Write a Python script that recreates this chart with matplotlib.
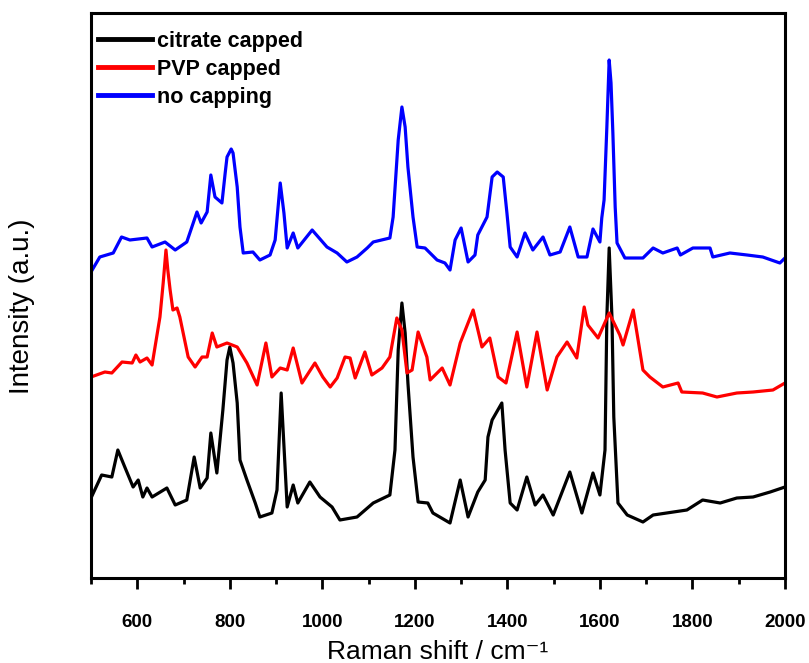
import numpy as np
import matplotlib.pyplot as plt
from matplotlib.ticker import MultipleLocator

plt.rcParams['font.family'] = ['Liberation Sans', 'DejaVu Sans']

# Raman spectra of the Ag nanoparticles, read point by point (cm-1, a.u.)
shift_citrate = [500, 523, 545, 558, 573, 591, 602, 612, 621, 632, 664, 682, 707, 723,
                 736, 751, 759, 772, 785, 794, 800, 807, 816, 822, 837, 855, 865, 891,
                 902, 911, 924, 937, 947, 973, 995, 1021, 1038, 1075, 1110, 1146,
                 1157, 1164, 1172, 1179, 1185, 1196, 1207, 1228, 1239, 1276, 1298,
                 1315, 1336, 1352, 1358, 1367, 1388, 1395, 1406, 1421, 1442, 1460,
                 1477, 1499, 1535, 1561, 1585, 1600, 1611, 1615, 1620, 1626, 1630,
                 1639, 1659, 1693, 1715, 1788, 1822, 1860, 1896, 1931, 1968, 2000]
int_citrate = [80, 103, 101, 128, 111, 91, 98, 81, 90, 81, 90, 73, 78, 121,
               90, 100, 145, 105, 168, 218, 231, 215, 175, 118, 98, 75, 61, 65,
               88, 185, 71, 93, 75, 96, 81, 71, 58, 61, 75, 83,
               128, 228, 275, 245, 195, 121, 76, 75, 65, 55, 98,
               61, 86, 98, 141, 158, 175, 128, 75, 68, 101, 73,
               83, 63, 106, 65, 105, 83, 128, 261, 330, 261, 161,
               75, 63, 56, 63, 68, 78, 75, 80, 81, 86, 91]

shift_pvp = [500, 530, 545, 567, 589, 597, 606, 621, 632, 649, 656, 662, 666, 671,
             677, 686, 692, 710, 725, 740, 751, 762, 772, 794, 816, 837, 859, 878,
             891, 909, 924, 937, 956, 984, 1001, 1017, 1032, 1049, 1060, 1071,
             1092, 1107, 1129, 1146, 1161, 1172, 1183, 1194, 1207, 1226, 1233,
             1259, 1276, 1298, 1326, 1345, 1362, 1380, 1397, 1421, 1442, 1464,
             1486, 1507, 1529, 1550, 1566, 1574, 1596, 1620, 1643, 1650, 1672,
             1693, 1708, 1736, 1769, 1777, 1822, 1853, 1896, 1931, 1974, 2000]
int_pvp = [201, 206, 205, 216, 215, 223, 216, 220, 213, 261, 295, 328, 308, 288,
           268, 270, 261, 221, 211, 221, 221, 245, 231, 235, 231, 215, 193, 235,
           201, 210, 208, 230, 195, 215, 201, 191, 200, 221, 220, 200,
           226, 203, 210, 221, 260, 248, 205, 208, 246, 221, 198,
           210, 193, 235, 268, 231, 240, 201, 195, 246, 191, 246,
           188, 221, 236, 220, 271, 253, 240, 265, 243, 233, 268,
           208, 201, 191, 195, 186, 185, 181, 185, 186, 188, 195]

shift_bare = [500, 519, 548, 566, 584, 621, 632, 660, 682, 707, 729, 738, 751, 759,
              768, 783, 790, 794, 803, 807, 816, 822, 829, 850, 865, 887, 898, 909,
              917, 924, 937, 947, 978, 1010, 1032, 1053, 1075, 1097, 1110, 1146,
              1153, 1164, 1172, 1179, 1185, 1196, 1205, 1222, 1248, 1265, 1276,
              1287, 1300, 1315, 1330, 1336, 1356, 1367, 1378, 1391, 1399, 1406,
              1421, 1438, 1455, 1477, 1492, 1514, 1535, 1553, 1572, 1585, 1600,
              1604, 1609, 1615, 1620, 1624, 1628, 1633, 1637, 1654, 1693, 1715,
              1736, 1767, 1774, 1801, 1838, 1844, 1881, 1918, 1952, 1989, 2000]
int_bare = [306, 321, 325, 341, 338, 340, 331, 336, 328, 336, 366, 355, 366, 403,
            381, 375, 405, 421, 429, 425, 391, 351, 325, 326, 318, 323, 338, 395,
            365, 330, 345, 330, 348, 331, 325, 316, 321, 330, 336, 340,
            361, 438, 471, 451, 411, 361, 331, 330, 318, 315, 308,
            338, 350, 316, 323, 343, 361, 401, 406, 401, 365, 331,
            321, 345, 328, 341, 323, 326, 351, 321, 321, 349, 336,
            360, 378, 451, 518, 495, 445, 371, 335, 320, 320, 330,
            325, 330, 323, 330, 330, 321, 325, 323, 321, 315, 320]

labels = ['citrate capped', 'PVP capped', 'no capping']
colors = ['#000000', '#ff0000', '#0000ff']

fig = plt.figure(figsize=(8.09, 6.63), dpi=100)
ax = fig.add_axes([0.1125, 0.1282, 0.8578, 0.8522])

ax.plot(shift_citrate, int_citrate, color=colors[0], lw=2.3, label=labels[0])
ax.plot(shift_pvp, int_pvp, color=colors[1], lw=2.3, label=labels[1])
ax.plot(shift_bare, int_bare, color=colors[2], lw=2.3, label=labels[2])

ax.set_xlim(500, 2000)
ax.set_ylim(0, 565)
ax.set_yticks([])
ax.xaxis.set_major_locator(MultipleLocator(200))
ax.xaxis.set_minor_locator(MultipleLocator(100))
ax.tick_params(axis='x', which='major', direction='out', length=8, width=2,
               labelsize=13.5, pad=18)
ax.tick_params(axis='x', which='minor', direction='out', length=4, width=2)
for lab in ax.get_xticklabels():
    lab.set_fontweight('bold')
for sp in ax.spines.values():
    sp.set_linewidth(2.2)

ax.set_xlabel('Raman shift / cm\u207b\u00b9', fontsize=19, labelpad=6.5)
ax.set_ylabel('Intensity (a.u.)', fontsize=20)
ax.yaxis.set_label_coords(-0.080, 0.481)

leg = ax.legend(loc='upper left', bbox_to_anchor=(0.01, 0.969), frameon=False,
                handlelength=2.5, handletextpad=0.25, labelspacing=0.33,
                borderpad=0, borderaxespad=0, prop={'size': 15.5, 'weight': 'bold'})
for h in leg.get_lines():
    h.set_linewidth(3.5)

fig.savefig('out.png', dpi=100)
